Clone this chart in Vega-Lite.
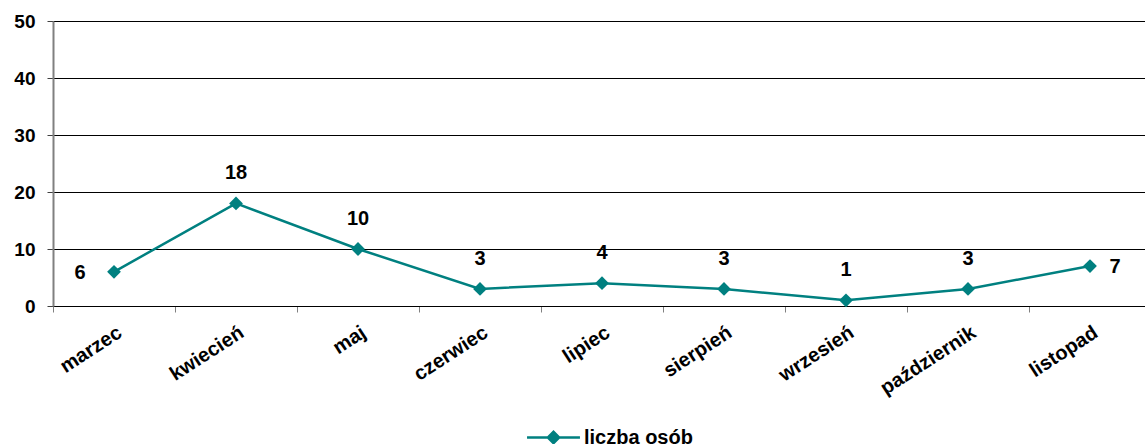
{
  "$schema": "https://vega.github.io/schema/vega-lite/v6.json",
  "width": 1098,
  "height": 285,
  "autosize": {"type": "none"},
  "padding": {"left": 53, "top": 21, "right": 0, "bottom": 138},
  "background": "white",
  "config": {
    "font": "Liberation Sans",
    "view": {"stroke": null}
  },
  "data": {
    "values": [
      {"miesiac": "marzec", "wartosc": 6, "seria": "liczba osób", "poz": "lewo"},
      {"miesiac": "kwiecień", "wartosc": 18, "seria": "liczba osób", "poz": "gora"},
      {"miesiac": "maj", "wartosc": 10, "seria": "liczba osób", "poz": "gora"},
      {"miesiac": "czerwiec", "wartosc": 3, "seria": "liczba osób", "poz": "gora"},
      {"miesiac": "lipiec", "wartosc": 4, "seria": "liczba osób", "poz": "gora"},
      {"miesiac": "sierpień", "wartosc": 3, "seria": "liczba osób", "poz": "gora"},
      {"miesiac": "wrzesień", "wartosc": 1, "seria": "liczba osób", "poz": "gora"},
      {"miesiac": "październik", "wartosc": 3, "seria": "liczba osób", "poz": "gora"},
      {"miesiac": "listopad", "wartosc": 7, "seria": "liczba osób", "poz": "prawo"}
    ]
  },
  "encoding": {
    "x": {
      "field": "miesiac",
      "type": "nominal",
      "sort": null,
      "bandPosition": 0.5,
      "scale": {"type": "band", "paddingInner": 0, "paddingOuter": 0},
      "axis": {
        "title": null,
        "tickBand": "extent",
        "labelAngle": -33,
        "labelAlign": "right",
        "labelBaseline": "top",
        "labelFontSize": 20,
        "labelFontWeight": "bold",
        "labelColor": "black",
        "labelPadding": 10,
        "tickSize": 6,
        "tickColor": "#808080",
        "domainColor": "black",
        "domainWidth": 1,
        "grid": false
      }
    },
    "y": {
      "field": "wartosc",
      "type": "quantitative",
      "scale": {"domain": [0, 50], "nice": false},
      "axis": {
        "title": null,
        "values": [0, 10, 20, 30, 40, 50],
        "labelFontSize": 19,
        "labelFontWeight": "bold",
        "labelColor": "black",
        "labelPadding": 12,
        "tickSize": 6,
        "tickColor": "#404040",
        "domainColor": "#808080",
        "domainWidth": 2,
        "grid": true,
        "gridColor": "black",
        "gridWidth": 1,
        "gridOpacity": 1
      }
    }
  },
  "layer": [
    {
      "mark": {"type": "line", "color": "#008080", "strokeWidth": 2.5},
      "encoding": {
        "color": {
          "field": "seria",
          "type": "nominal",
          "scale": {"range": ["#008080"]},
          "legend": {
            "title": null,
            "orient": "none",
            "legendX": 474,
            "legendY": 390,
            "padding": 0,
            "symbolType": "M-1,-0.045 L1,-0.045 L1,0.045 L-1,0.045 Z M0,-0.28 L0.28,0 L0,0.28 L-0.28,0 Z",
            "symbolSize": 2800,
            "symbolFillColor": "#008080",
            "symbolStrokeWidth": 0,
            "symbolOpacity": 1,
            "labelFontSize": 20,
            "labelFontWeight": "bold",
            "labelColor": "black",
            "labelOffset": 4
          }
        }
      }
    },
    {
      "mark": {"type": "point", "shape": "diamond", "filled": true, "color": "#008080", "size": 190, "opacity": 1},
      "encoding": {}
    },
    {
      "transform": [{"filter": "datum.poz == 'gora'"}],
      "mark": {"type": "text", "dy": -30, "fontSize": 20, "fontWeight": "bold", "color": "black"},
      "encoding": {"text": {"field": "wartosc", "type": "quantitative"}}
    },
    {
      "transform": [{"filter": "datum.poz == 'lewo'"}],
      "mark": {"type": "text", "dx": -34, "dy": 1, "fontSize": 20, "fontWeight": "bold", "color": "black"},
      "encoding": {"text": {"field": "wartosc", "type": "quantitative"}}
    },
    {
      "transform": [{"filter": "datum.poz == 'prawo'"}],
      "mark": {"type": "text", "dx": 25, "dy": 1, "fontSize": 20, "fontWeight": "bold", "color": "black"},
      "encoding": {"text": {"field": "wartosc", "type": "quantitative"}}
    }
  ]
}
